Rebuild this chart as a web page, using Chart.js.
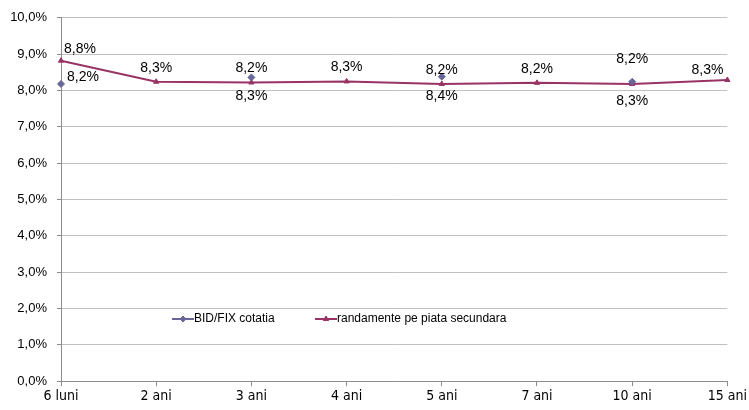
<!DOCTYPE html>
<html>
<head>
<meta charset="utf-8">
<script src="https://cdn.jsdelivr.net/npm/chart.js@4.4.1/dist/chart.umd.min.js"></script>
<style>
  html, body { margin: 0; padding: 0; background: #fff; }
  #wrap { width: 749px; height: 410px; }
</style>
</head>
<body>
<div id="wrap"><canvas id="chart"></canvas></div>
<script>
// date
var categorii = ['6 luni', '2 ani', '3 ani', '4 ani', '5 ani', '7 ani', '10 ani', '15 ani'];
var bidFix = [8.18, null, 8.36, null, 8.38, null, 8.24, null];
var randamente = [8.82, 8.24, 8.22, 8.25, 8.18, 8.21, 8.18, 8.29];
var etichetaBid = ['8,2%', null, '8,3%', null, '8,4%', null, '8,3%', null];
var etichetaRand = ['8,8%', '8,3%', '8,2%', '8,3%', '8,2%', '8,2%', '8,2%', '8,3%'];

var fontText = '"Liberation Sans", Arial, sans-serif';
var culoareBid = '#666699';
var culoareRand = '#993366';

function procent(v) {
    return v.toFixed(1).replace('.', ',') + '%';
}

// etichete de date
var eticheteDate = {
    id: 'eticheteDate',
    afterDatasetsDraw: function (chart) {
        var ctx = chart.ctx;
        ctx.save();
        ctx.font = '14px ' + fontText;
        ctx.fillStyle = '#000';
        ctx.textBaseline = 'middle';
        // randamente - deasupra
        chart.getDatasetMeta(1).data.forEach(function (pt, i) {
            var t = etichetaRand[i];
            if (!t) return;
            var x = pt.x, y = pt.y - 14;
            ctx.textAlign = 'center';
            if (i === 0) { ctx.textAlign = 'left'; x += 3; y = pt.y - 12; }
            if (i === categorii.length - 1) { ctx.textAlign = 'right'; x -= 4; y = pt.y - 10; }
            if (i === 6) { y = pt.y - 25; }
            ctx.fillText(t, x, y);
        });
        // BID/FIX - dedesubt
        chart.getDatasetMeta(0).data.forEach(function (pt, i) {
            var t = etichetaBid[i];
            if (!t || bidFix[i] === null) return;
            var x = pt.x, y;
            ctx.textAlign = 'center';
            if (i === 0) { ctx.textAlign = 'left'; x += 6; y = pt.y - 7; }
            else { y = pt.y + 19; }
            ctx.fillText(t, x, y);
        });
        ctx.restore();
    }
};

// legenda in interiorul graficului
var legendaInterior = {
    id: 'legendaInterior',
    afterDraw: function (chart) {
        var ctx = chart.ctx;
        var y = 319;
        var intrari = [
            { x: 172, text: 'BID/FIX cotatia', color: culoareBid, style: 'rectRot' },
            { x: 315, text: 'randamente pe piata secundara', color: culoareRand, style: 'triangle' }
        ];
        ctx.save();
        ctx.font = '12px ' + fontText;
        ctx.textBaseline = 'middle';
        ctx.textAlign = 'left';
        intrari.forEach(function (e) {
            ctx.strokeStyle = e.color;
            ctx.lineWidth = 2;
            ctx.beginPath();
            ctx.moveTo(e.x, y);
            ctx.lineTo(e.x + 22, y);
            ctx.stroke();
            ctx.fillStyle = e.color;
            ctx.lineWidth = 1;
            Chart.helpers.drawPoint(ctx, { pointStyle: e.style, radius: 3, borderWidth: 1 }, e.x + 11, y);
            ctx.fill();
            ctx.fillStyle = '#000';
            ctx.fillText(e.text, e.x + 22, y);
        });
        ctx.restore();
    }
};

var ctx = document.getElementById('chart').getContext('2d');
new Chart(ctx, {
    type: 'line',
    data: {
        labels: categorii,
        datasets: [{
            label: 'BID/FIX cotatia',
            data: bidFix,
            borderColor: culoareBid,
            backgroundColor: culoareBid,
            borderWidth: 2,
            pointStyle: 'rectRot',
            pointRadius: 3.5,
            pointBorderWidth: 1,
            spanGaps: false
        }, {
            label: 'randamente pe piata secundara',
            data: randamente,
            borderColor: culoareRand,
            backgroundColor: culoareRand,
            borderWidth: 2,
            pointStyle: 'triangle',
            pointRadius: 3,
            pointBorderWidth: 1,
            tension: 0
        }]
    },
    options: {
        responsive: true,
        maintainAspectRatio: false,
        animation: false,
        layout: {
            padding: { top: 5, right: 20, left: 0, bottom: 3 }
        },
        plugins: {
            legend: { display: false },
            tooltip: { enabled: false }
        },
        scales: {
            x: {
                offset: false,
                grid: {
                    drawOnChartArea: false,
                    drawTicks: true,
                    tickLength: 5,
                    color: '#8c8c8c'
                },
                border: { color: '#8c8c8c' },
                ticks: {
                    color: '#000',
                    padding: 2,
                    maxRotation: 0,
                    autoSkip: false,
                    font: { family: '"DejaVu Sans Condensed", "Liberation Sans Narrow", "Liberation Sans", sans-serif', size: 14 }
                }
            },
            y: {
                min: 0,
                max: 10,
                afterFit: function (scale) { scale.width = 61; },
                grid: {
                    color: '#c0c0c0',
                    tickLength: 4,
                    tickColor: '#8c8c8c'
                },
                border: { color: '#8c8c8c' },
                ticks: {
                    stepSize: 1,
                    color: '#000',
                    padding: 10,
                    font: { family: fontText, size: 13 },
                    callback: function (v) { return procent(v); }
                }
            }
        }
    },
    plugins: [eticheteDate, legendaInterior]
});
</script>
</body>
</html>
